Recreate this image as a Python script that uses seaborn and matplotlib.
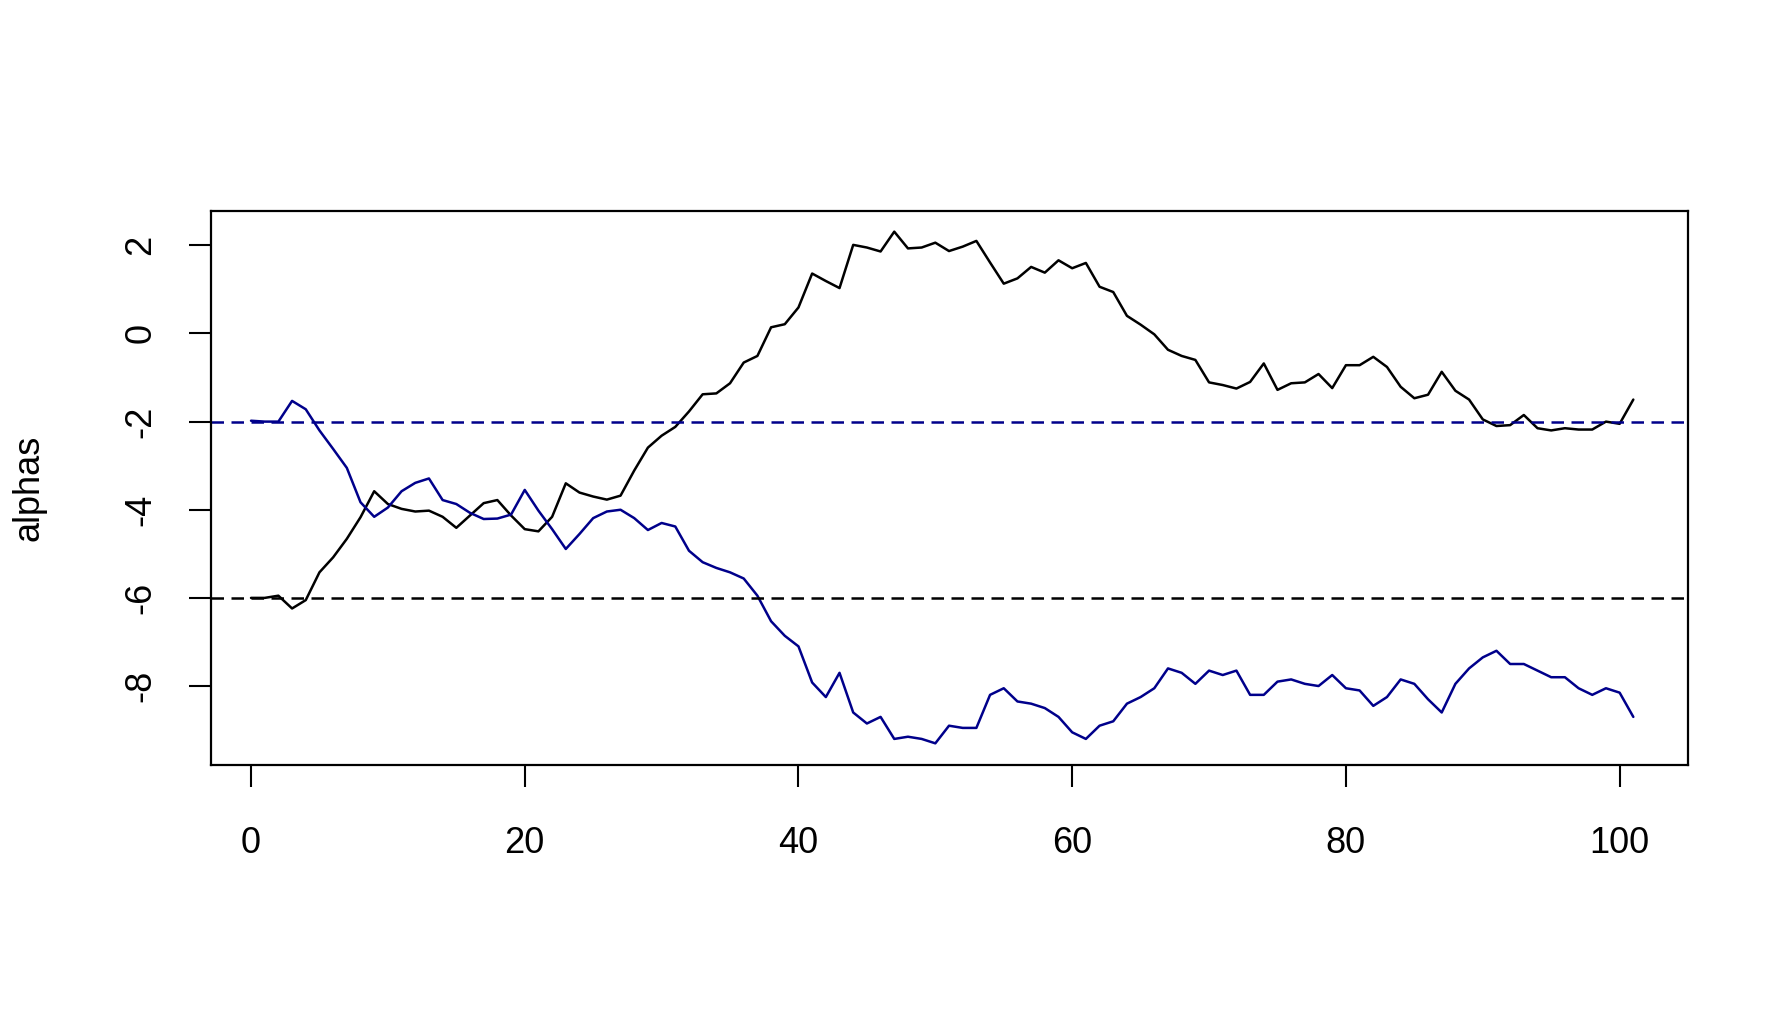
import matplotlib
matplotlib.use("Agg")
import numpy as np
import pandas as pd
import matplotlib.pyplot as plt
import seaborn as sns

black_alpha = [-6.0, -6.0, -5.95, -6.24, -6.05, -5.42, -5.08, -4.66, -4.17, -3.58,
               -3.87, -3.98, -4.04, -4.02, -4.16, -4.41, -4.13, -3.85, -3.78, -4.13,
               -4.44, -4.49, -4.16, -3.40, -3.61, -3.70, -3.77, -3.68, -3.11, -2.59,
               -2.32, -2.12, -1.77, -1.38, -1.36, -1.13, -0.66, -0.51, 0.14, 0.21,
               0.59, 1.36, 1.19, 1.03, 2.01, 1.95, 1.86, 2.31, 1.93, 1.95,
               2.06, 1.87, 1.97, 2.10, 1.61, 1.13, 1.25, 1.51, 1.38, 1.66,
               1.48, 1.60, 1.06, 0.94, 0.40, 0.20, -0.02, -0.37, -0.51, -0.60,
               -1.11, -1.17, -1.25, -1.10, -0.68, -1.28, -1.13, -1.11, -0.92, -1.24,
               -0.72, -0.72, -0.53, -0.76, -1.21, -1.47, -1.39, -0.87, -1.30, -1.50,
               -1.95, -2.10, -2.08, -1.85, -2.15, -2.20, -2.15, -2.18, -2.18, -2.00,
               -2.05, -1.50]
blue_alpha = [-1.98, -2.0, -2.0, -1.53, -1.72, -2.20, -2.62, -3.05, -3.83, -4.16,
              -3.95, -3.58, -3.39, -3.29, -3.78, -3.87, -4.07, -4.21, -4.20, -4.11,
              -3.55, -4.02, -4.44, -4.89, -4.55, -4.19, -4.04, -4.00, -4.19, -4.46,
              -4.30, -4.38, -4.93, -5.19, -5.32, -5.42, -5.56, -5.95, -6.53, -6.86,
              -7.10, -7.92, -8.25, -7.70, -8.60, -8.85, -8.70, -9.20, -9.15, -9.20,
              -9.30, -8.90, -8.95, -8.95, -8.20, -8.05, -8.35, -8.40, -8.50, -8.70,
              -9.05, -9.20, -8.90, -8.80, -8.40, -8.25, -8.05, -7.60, -7.70, -7.95,
              -7.65, -7.75, -7.65, -8.20, -8.20, -7.90, -7.85, -7.95, -8.00, -7.75,
              -8.05, -8.10, -8.45, -8.25, -7.85, -7.95, -8.30, -8.60, -7.95, -7.60,
              -7.35, -7.20, -7.50, -7.50, -7.65, -7.80, -7.80, -8.05, -8.20, -8.05,
              -8.15, -8.70]
steps = list(range(len(black_alpha)))
black_ref = -6
blue_ref = -2
x_ticks = [0, 20, 40, 60, 80, 100]
y_ticks = [-8, -6, -4, -2, 0, 2]

sns.set_style("ticks")
plt.rcParams["font.family"] = ["Liberation Sans", "DejaVu Sans"]

df = pd.DataFrame({"step": steps, "black": black_alpha, "blue": blue_alpha})

fig = plt.figure(figsize=(17.92, 10.24), dpi=100)
ax = fig.add_axes([0.1177, 0.253, 0.8243, 0.541])

sns.lineplot(data=df, x="step", y="black", color="black", lw=1.8, ax=ax)
sns.lineplot(data=df, x="step", y="blue", color="#00008B", lw=1.8, ax=ax)
ax.axhline(black_ref, color="black", ls=(0, (5, 3)), lw=1.8)
ax.axhline(blue_ref, color="#00008B", ls=(0, (5, 3)), lw=1.8)

ax.set_xlim(-2.93, 105.0)
ax.set_ylim(-9.79, 2.78)
ax.set_xticks(x_ticks)
ax.set_yticks(y_ticks)
ax.set_yticklabels([str(v) for v in y_ticks], rotation=90, va="center")
ax.tick_params(axis="both", labelsize=26, length=16, width=1.5,
               colors="black", labelcolor="black")
ax.tick_params(axis="x", pad=28)
ax.tick_params(axis="y", pad=22)
for s in ax.spines.values():
    s.set_linewidth(1.6)
    s.set_color("black")
ax.set_xlabel("")
ax.set_ylabel("alphas", fontsize=26, labelpad=55, color="black")

fig.savefig("out.png", dpi=100)
